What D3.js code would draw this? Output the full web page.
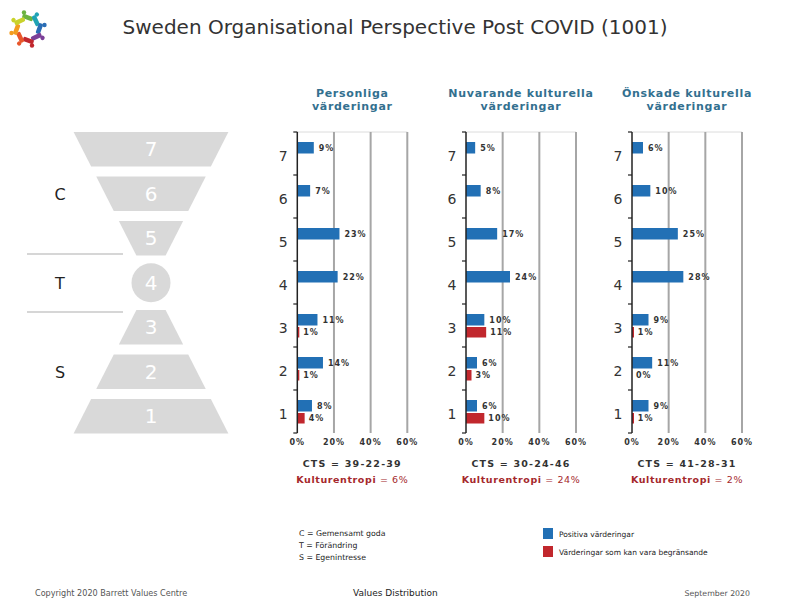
<!DOCTYPE html>
<html><head><meta charset="utf-8">
<script src="https://cdn.jsdelivr.net/npm/d3@7"></script>
<style>
body{margin:0;background:#fff;}
svg{display:block;font-family:"DejaVu Sans",Verdana,sans-serif;}
</style></head>
<body>
<script>
// ---- data ----
const title = "Sweden Organisational Perspective Post COVID (1001)";
const levels = [7, 6, 5, 4, 3, 2, 1];
const panelTitles = [["Personliga", "värderingar"], ["Nuvarande kulturella", "värderingar"], ["Önskade kulturella", "värderingar"]];
const personligaPos = [9, 7, 23, 22, 11, 14, 8];
const personligaLim = [null, null, null, null, 1, 1, 4];
const nuvarandePos = [5, 8, 17, 24, 10, 6, 6];
const nuvarandeLim = [null, null, null, null, 11, 3, 10];
const onskadePos = [6, 10, 25, 28, 9, 11, 9];
const onskadeLim = [null, null, null, null, 1, 0, 1];
const ctsLabels = ["CTS = 39-22-39", "CTS = 30-24-46", "CTS = 41-28-31"];
const entropyValues = ["6%", "24%", "2%"];
const xTicks = [0, 20, 40, 60];
const groupLetters = [["C", 6], ["T", 4], ["S", 2]];
const letterLegend = ["C = Gemensamt goda", "T = Förändring", "S = Egenintresse"];
const colorLegend = ["Positiva värderingar", "Värderingar som kan vara begränsande"];
const footer = ["Copyright 2020 Barrett Values Centre", "Values Distribution", "September 2020"];

const BLUE = "#2270b5", RED = "#c1272d", TITLEBLUE = "#33708f";

const W = 792, H = 612;
const svg = d3.select("body").append("svg").attr("width", W).attr("height", H);

// ---- logo ----
const logoColors = ["#6cb33f", "#1fa3b5", "#2a6db5", "#7b3f98", "#c1272d", "#e8562a", "#f39c1f", "#c9d22b"];
const logo = svg.append("g").attr("transform", "translate(28,29)");
logoColors.forEach((c, i) => {
  const a = i * 45 - 90;
  const g = logo.append("g").attr("transform", `rotate(${a}) translate(11,0)`);
  g.append("rect").attr("x", -2).attr("y", -6).attr("width", 4.5).attr("height", 11).attr("rx", 1.5).attr("fill", c).attr("transform", "rotate(20)");
  g.append("circle").attr("cx", 5.5).attr("cy", -4).attr("r", 2.2).attr("fill", c);
});

// ---- title ----
svg.append("text").attr("x", 395).attr("y", 34).attr("text-anchor", "middle")
  .attr("font-size", 20).attr("fill", "#333").text(title);

// ---- funnel ----
const fy = d3.scaleBand().domain(levels).range([132, 433.5]).paddingInner(0.225).paddingOuter(0);
const fcx = 151, fcy = fy(4) + fy.bandwidth() / 2;
const hw = d3.scaleLinear().domain([28, 151]).range([15, 77.5]);
const funnel = svg.append("g");
levels.forEach(l => {
  const y0 = fy(l), y1 = y0 + fy.bandwidth();
  if (l === 4) {
    funnel.append("circle").attr("cx", fcx).attr("cy", fcy).attr("r", 19.5).attr("fill", "#d9d9d9");
  } else {
    const a = hw(Math.abs(y0 - fcy)), b = hw(Math.abs(y1 - fcy));
    funnel.append("path").attr("d", `M${fcx - a},${y0}L${fcx + a},${y0}L${fcx + b},${y1}L${fcx - b},${y1}Z`).attr("fill", "#d9d9d9");
  }
  funnel.append("text").attr("x", fcx).attr("y", y0 + fy.bandwidth() / 2).attr("dy", "0.36em")
    .attr("text-anchor", "middle").attr("font-size", 20).attr("fill", "#fff").text(l);
});
groupLetters.forEach(([t, l]) => {
  svg.append("text").attr("x", 60).attr("y", fy(l) + fy.bandwidth() / 2).attr("dy", "0.36em")
    .attr("text-anchor", "middle").attr("font-size", 16).attr("fill", "#222").text(t);
});
[254, 312].forEach(y => svg.append("line").attr("x1", 27).attr("x2", 123).attr("y1", y).attr("y2", y)
  .attr("stroke", "#c8c8c8").attr("stroke-width", 1.5));

// ---- panels ----
const panels = [
  {x0: 297.3, pos: personligaPos, lim: personligaLim},
  {x0: 466, pos: nuvarandePos, lim: nuvarandeLim},
  {x0: 632, pos: onskadePos, lim: onskadeLim}
];
const y = d3.scaleBand().domain(levels).range([132, 433]);
panels.forEach((p, pi) => {
  const x = d3.scaleLinear().domain([0, 60]).range([p.x0, p.x0 + 110]);
  const g = svg.append("g");
  const cx = (x(0) + x(60)) / 2;
  // title
  panelTitles[pi].forEach((t, i) => g.append("text").attr("x", cx).attr("y", 97 + i * 12.5)
    .attr("text-anchor", "middle").attr("font-size", 11).attr("font-weight", "bold")
    .attr("letter-spacing", 0.7).attr("fill", TITLEBLUE).text(t));
  // top light line
  g.append("line").attr("x1", x(0)).attr("x2", x(60)).attr("y1", 132).attr("y2", 132).attr("stroke", "#dcdcdc");
  // gridlines
  xTicks.slice(1).forEach(t => g.append("line").attr("x1", x(t)).attr("x2", x(t)).attr("y1", 132).attr("y2", 433)
    .attr("stroke", "#a6a6a6").attr("stroke-width", 2));
  // bars
  levels.forEach((l, i) => {
    const by = y(l);
    const v = p.pos[i];
    g.append("rect").attr("x", x(0)).attr("y", by + 10).attr("width", x(v) - x(0)).attr("height", 11.5).attr("fill", BLUE);
    g.append("text").attr("x", x(v) + 5).attr("y", by + 16).attr("dy", "0.35em")
      .attr("font-size", 8).attr("font-weight", "bold").attr("letter-spacing", 1).attr("fill", "#333").text(v + "%");
    const r = p.lim[i];
    if (r !== null) {
      g.append("rect").attr("x", x(0)).attr("y", by + 23).attr("width", Math.max(x(r) - x(0), r > 0 ? 2 : 0)).attr("height", 10.5).attr("fill", RED);
      g.append("text").attr("x", x(r) + 4).attr("y", by + 28).attr("dy", "0.35em")
        .attr("font-size", 8).attr("font-weight", "bold").attr("letter-spacing", 1).attr("fill", "#333").text(r + "%");
    }
    g.append("text").attr("x", x(0) - 14).attr("y", by + y.bandwidth() / 2 + 2).attr("dy", "0.36em")
      .attr("text-anchor", "middle").attr("font-size", 14).attr("fill", "#333").text(l);
  });
  // y axis
  const ag = g.append("g").attr("transform", `translate(${x(0)},0)`);
  ag.append("line").attr("y1", 132).attr("y2", 433).attr("stroke", "#222").attr("stroke-width", 1.5);
  levels.concat([0]).forEach((l, i) => {
    const ty = 132 + i * y.step();
    ag.append("line").attr("x1", -4).attr("x2", 0).attr("y1", ty).attr("y2", ty).attr("stroke", "#222").attr("stroke-width", 1.2);
  });
  // x tick labels
  xTicks.forEach(t => g.append("text").attr("x", x(t)).attr("y", 445).attr("text-anchor", "middle")
    .attr("font-size", 8).attr("font-weight", "bold").attr("letter-spacing", 1).attr("fill", "#333").text(t + "%"));
  g.append("text").attr("x", cx).attr("y", 467).attr("text-anchor", "middle").attr("font-size", 9.5)
    .attr("font-weight", "bold").attr("letter-spacing", 1.2).attr("fill", "#333").text(ctsLabels[pi]);
  const et = g.append("text").attr("x", cx).attr("y", 483).attr("text-anchor", "middle").attr("font-size", 9.5)
    .attr("letter-spacing", 0.6).attr("fill", "#a5282c");
  et.append("tspan").attr("font-weight", "bold").text("Kulturentropi");
  et.append("tspan").text(" = " + entropyValues[pi]);
});

// ---- legends ----
letterLegend.forEach((t, i) => svg.append("text").attr("x", 299).attr("y", 536 + i * 12)
  .attr("font-size", 7.8).attr("fill", "#222").text(t));
[BLUE, RED].forEach((c, i) => {
  svg.append("rect").attr("x", 543).attr("y", 528 + i * 18).attr("width", 10).attr("height", 11).attr("fill", c);
  svg.append("text").attr("x", 559).attr("y", 537 + i * 18).attr("font-size", 7.5).attr("fill", "#222").text(colorLegend[i]);
});
// ---- footer ----
svg.append("text").attr("x", 35).attr("y", 596).attr("font-size", 8.1).attr("fill", "#555").text(footer[0]);
svg.append("text").attr("x", 353).attr("y", 596).attr("font-size", 9).attr("fill", "#222").text(footer[1]);
svg.append("text").attr("x", 750).attr("y", 596).attr("text-anchor", "end").attr("font-size", 7.8).attr("fill", "#555").text(footer[2]);
</script>
</body></html>
